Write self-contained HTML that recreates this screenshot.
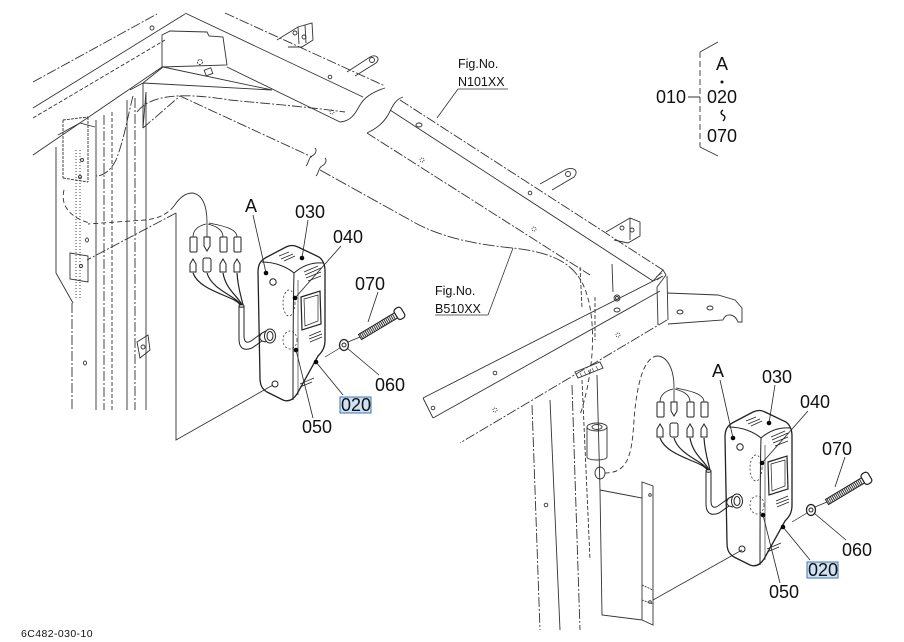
<!DOCTYPE html>
<html><head><meta charset="utf-8"><style>
html,body{margin:0;padding:0;background:#fff;}
svg{display:block;}
text{font-family:"Liberation Sans",Arial,sans-serif;fill:#111;}
</style></head><body>
<svg width="904" height="642" viewBox="0 0 904 642" xmlns="http://www.w3.org/2000/svg">
<defs>
<g id="lb" fill="none" stroke="#222" stroke-width="1">
  <!-- box outline -->
  <path stroke-width="1.3" d="M258,272 C258,264 261,260 267,257 L286,247 C290,245 294,245 298,247 L319,257 C323,260 325,264 325,271 L325,340 C325,347 323,351 318,356 L297,394 C293,400 288,402 283,400 L267,392 C262,389 260,385 260,378 Z"/>
  <path d="M262,262 C275,262 287,267 294,273 C302,266 312,262 323,263"/>
  <path d="M294,273 C293,310 293,360 293,400"/>
  <path d="M298,280 L298,395" stroke-width="0.6"/>
  <!-- window -->
  <path stroke-width="1.2" d="M301,297 L320,291 L321,324 L302,330 Z"/>
  <path d="M304,299 L318,295 L318,321 L305,326 Z" stroke-width="0.7"/>
  <!-- hatches -->
  <path stroke-width="0.7" d="M279,256 l10,-4 M281,259 l12,-5 M284,261 l11,-5 M304,272 l14,-6 M305,275 l16,-7 M306,278 l15,-6 M308,281 l13,-5 M309,336 l12,-5 M309,339 l13,-5 M310,342 l12,-5 M300,384 l14,-6 M300,387 l12,-5"/>
  <!-- holes -->
  <circle cx="273" cy="282" r="3.2"/>
  <circle cx="275" cy="384" r="3"/>
  <ellipse cx="289" cy="303" rx="6" ry="13" stroke-dasharray="2 2" stroke-width="0.7"/>
  <ellipse cx="290" cy="340" rx="7" ry="9" stroke-dasharray="2 2" stroke-width="0.7"/>
  <!-- grommet -->
  <ellipse cx="270" cy="336" rx="5.5" ry="7"/>
  <ellipse cx="270" cy="336" rx="3" ry="4.5"/>
  <path d="M266,331 L262,333 M266,342 L262,341 M262,333 C259,336 259,339 262,341"/>
  <!-- cable -->
  <path d="M262,333 L251,341 C246,344 244,341 244,336 L244,306"/>
  <path d="M262,341 L252,348 C242,352 239,346 239,339 L239,306"/>
  <ellipse cx="241.5" cy="306" rx="2.5" ry="1.2"/>
  <!-- wires -->
  <path stroke-width="1.2" d="M240,305 C236,296 200,292 193,273 M241,305 C236,296 212,290 207,273 M242,305 C238,296 226,290 223,273 M243,305 C241,296 238,288 237,273"/>
  <!-- lower connectors -->
  <path d="M190,272 L190,264 L193,259 L196,264 L196,272 Z"/>
  <rect x="203" y="258" width="8" height="14" rx="2"/>
  <path d="M220,272 L220,264 L223,259 L226,264 L226,272 Z"/>
  <path d="M234,272 L234,264 L237,259 L240,264 L240,272 Z"/>
  <!-- upper connectors -->
  <rect x="190" y="237" width="7" height="15" rx="1"/>
  <path d="M204,237 L210,237 L210,246 L207,251 L204,246 Z"/>
  <rect x="220" y="237" width="7" height="15" rx="1"/>
  <rect x="234" y="237" width="7" height="15" rx="1"/>
  <path stroke-width="0.8" d="M193,237 C193,230 198,226 206,224 M207,237 L207,222 M223,237 C223,229 215,226 208,224 M237,237 C237,229 224,226 209,223"/>
  <!-- dots -->
  <g fill="#000" stroke="none">
    <circle cx="266" cy="273" r="2.3"/>
    <circle cx="302" cy="258" r="2.3"/>
    <circle cx="295" cy="298" r="2.3"/>
    <circle cx="296" cy="350" r="2.3"/>
    <circle cx="316" cy="362" r="2.3"/>
  </g>
  <!-- bolt -->
  <g transform="translate(360,337) rotate(-31)">
    <line x1="1" y1="0" x2="41" y2="0" stroke="#333" stroke-width="6" stroke-dasharray="1 1"/>
    <rect x="0" y="-3" width="42" height="6"/>
    <rect x="42" y="-6" width="8" height="12" rx="3" stroke-width="1.2"/>
  </g>
  <!-- washer -->
  <ellipse cx="344" cy="345" rx="4.5" ry="5.5" stroke-width="1.3"/>
  <circle cx="344" cy="345" r="2"/>
  <path stroke-width="0.7" d="M325,357 L340,348 M348,342 L360,337"/>
  <!-- leaders -->
  <path stroke-width="0.8" d="M253,215 L266,273 M308,220 L302,258 M341,246 L295,298 M378,292 L368,322 M379,375 L347,348 M343,395 L316,362 M313,418 L296,350"/>
</g>
</defs>

<!-- FRAME -->
<g fill="none" stroke="#333" stroke-width="0.9">
  <!-- top-left roof -->
  <path stroke-dasharray="10 2 2 2" d="M33,82 L157,14"/>
  <path d="M33,108 L185,14"/>
  <path stroke-dasharray="4 2" d="M33,118 L165,40"/>
  <path d="M33,155 L162,67"/>
  <path d="M162,67 L162,35 L170,31 L207,32 L209,36 L223,37 L227,65 Z"/>
  <rect x="205" y="69" width="7" height="6" transform="rotate(-20 208 72)"/>
  <circle cx="152" cy="28" r="2"/>
  <circle cx="200" cy="62" r="2.5" stroke-dasharray="2 1"/>
  <path d="M185,13 L363,97"/>
  <path stroke-dasharray="10 2 2 2" d="M225,13 L385,86"/>
  <path d="M227,67 L340,122"/>
  <path d="M340,122 C352,121 356,112 360,105 C364,98 372,92 385,88"/>
  <circle cx="330" cy="77" r="1.8"/>
  <circle cx="332" cy="112" r="2" stroke-dasharray="1 1"/>
  <!-- top brackets -->
  <path d="M277,40 L298,27 L312,23 L313,40 L302,47 L288,47"/>
  <path d="M298,27 L299,44 M305,25 L306,43"/>
  <circle cx="295" cy="33" r="2"/><circle cx="304" cy="37" r="2"/>
  <path d="M347,72 L370,57 C376,54 381,58 376,63 L355,76"/>
  <circle cx="372" cy="60" r="2.5"/>
  <!-- wedge & pillar top -->
  <path d="M130,90 L143,83 L143,128 M143,83 L272,90 M163,67 L272,90 M143,83 L163,67"/>
  <path d="M146,92 L143,128"/>
  <path stroke-dasharray="10 2 2 2" d="M143,128 L180,96 L312,157"/>
  <path d="M306,166 c3,-3 2,-8 6,-10 c4,-2 5,-6 3,-8 M316,176 c3,-3 2,-8 6,-10 c4,-2 5,-6 3,-8"/>
  <path stroke-dasharray="10 2 2 2" d="M137,112 C150,95 180,92 230,100 C270,104 300,106 345,112"/>
  <path stroke-dasharray="12 2 2 2" d="M320,170 L410,220 C440,238 480,245 513,248 C550,252 568,262 578,276"/>
  <path stroke-dasharray="5 3" d="M578,276 C596,300 598,360 580,415"/>

  <!-- N101XX beam -->
  <path stroke-dasharray="10 2 2 2" d="M400,100 L663,270"/>
  <path d="M390,110 L653,281"/>
  <path stroke-dasharray="10 2 2 2" d="M367,133 L590,275"/>
  <path d="M403,97 C394,100 392,108 388,115 C384,122 378,128 367,133"/>
  <ellipse cx="419" cy="125" rx="3" ry="2"/>
  <circle cx="530" cy="193" r="1.8"/>
  <circle cx="422" cy="160" r="2" stroke-dasharray="1 1"/>
  <circle cx="534" cy="229" r="2" stroke-dasharray="1 1"/>
  <path d="M540,184 L565,170 C572,166 580,170 574,177 L552,190"/>
  <circle cx="568" cy="174" r="2.5"/>
  <path d="M606,232 L630,218 L640,222 L640,236 L628,243 L614,240"/>
  <path d="M630,218 L630,240"/>
  <circle cx="622" cy="228" r="2"/><circle cx="632" cy="230" r="2"/>
  <path d="M653,281 L663,270 L666,275 L657,287"/>
  <path d="M656,277 l6,-4 M657,280 l6,-4" stroke-width="0.6"/>
  <path d="M667,276 L668,320 M657,287 L658,325"/>
  <path d="M667,293 L718,295 L735,300 L742,308 L742,322 L738,322 C735,314 726,312 723,320 L668,324"/>
  <ellipse cx="680" cy="312" rx="3" ry="2"/><ellipse cx="710" cy="308" rx="3" ry="2"/>
  <path d="M580,267 L582,308 M595,297 L595,340" stroke-dasharray="4 2"/>
  <path d="M612,264 L613,292"/>

  <!-- crossbeam B510XX -->
  <path d="M663,276 L423,398"/>
  <path d="M660,291 L433,418"/>
  <path stroke-dasharray="10 2 2 2" d="M667,320 L460,443"/>
  <path d="M423,398 L433,418"/>
  <circle cx="433" cy="408" r="1.8"/>
  <circle cx="495" cy="373" r="1.8"/>
  <circle cx="617" cy="298" r="3"/>
  <circle cx="617" cy="298" r="1.5"/>
  <ellipse cx="617" cy="310" rx="3" ry="2"/>
  <circle cx="618" cy="335" r="2" stroke-dasharray="1 1"/>
  <circle cx="495" cy="410" r="2" stroke-dasharray="1 1"/>

  <!-- lower right pillar -->
  <path stroke-dasharray="10 2 2 2" d="M532,405 L540,630"/>
  <path d="M550,400 L560,630"/>
  <path stroke-dasharray="10 2 2 2" d="M572,385 L580,630"/>
  <path stroke-dasharray="4 2" d="M582,380 L590,560"/>
  <path d="M597,375 L600,490"/>
  <path d="M575,372 L600,362 L603,368 L578,378 Z"/>
  <path stroke-width="0.6" d="M580,373 l2,4 M584,371 l2,4 M588,370 l2,4 M592,368 l2,4 M596,366 l2,4"/>
  <path d="M587,427 L587,457 C587,461 607,461 607,457 L607,427"/>
  <ellipse cx="597" cy="427" rx="10" ry="4"/>
  <ellipse cx="597" cy="427" rx="5" ry="2.5"/>
  <ellipse cx="600" cy="473" rx="5" ry="6"/>
  <path d="M600,490 L642,498 L642,620 L602,615 Z"/>
  <path d="M642,498 L642,482 L653,486 L653,625 L642,620"/>
  <circle cx="650" cy="495" r="1.3"/>
  <path d="M642,585 L653,590 L653,604 L642,600" stroke-dasharray="2 1"/>
  <circle cx="650" cy="602" r="1.3"/>
  <circle cx="546" cy="505" r="1.8"/>
  <path stroke-dasharray="5 3" d="M658,356 C645,356 637,380 634,420 C632,455 628,473 605,473"/>
  <path d="M674,387 C674,370 668,357 658,356"/>
  <path stroke-width="0.8" d="M742,550 L653,600"/>

  <!-- left pillar -->
  <path d="M56,147 L56,273 L73,303"/>
  <path d="M58,135 L80,123 L95,127"/>
  <path stroke-dasharray="10 2 2 2" d="M72,303 L72,410"/>
  <path d="M96,120 L96,410"/>
  <path stroke-dasharray="10 2 2 2" d="M104,115 L104,410"/>
  <path stroke-dasharray="4 2" d="M112,112 L112,410"/>
  <path d="M127,100 L127,410"/>
  <path stroke-dasharray="10 2 2 2" d="M135,98 L135,410"/>
  <path d="M146,92 L146,410"/>
  <path stroke-dasharray="1 2" d="M76,150 L76,300 M80,150 L80,300"/>
  <path stroke-dasharray="3 1" d="M63,120 L63,178 M88,117 L88,182 M63,120 L88,117 M63,178 L88,182"/>
  <circle cx="82" cy="160" r="1.5"/><circle cx="80" cy="177" r="1.5"/>
  <path d="M70,253 L88,256 L88,282 L70,279 Z"/>
  <circle cx="81" cy="266" r="1.5"/>
  <path d="M137,342 L148,335 L150,350 L140,358 Z"/>
  <circle cx="143" cy="347" r="2"/>
  <ellipse cx="85" cy="363" rx="1.5" ry="2"/>
  <ellipse cx="87" cy="240" rx="1.5" ry="2"/>
  <path stroke-dasharray="10 2 2 2" d="M133,96 C128,115 124,140 116,160 C110,172 102,176 96,176"/>
  <path stroke-dasharray="5 3" d="M64,190 C60,205 70,218 90,223"/>
  <path d="M207,222 C207,205 202,194 192,193 C184,193 178,200 174,206"/>
  <path stroke-dasharray="5 3" d="M174,206 C166,216 155,219 145,220 L88,224"/>
  <path d="M176,213 L176,440 L273,385"/>
  <path stroke-dasharray="10 2 2 2" d="M176,213 L87,260"/>

  <!-- Fig.No leaders -->
  <path stroke-width="0.8" d="M458,89 L508,89 M458,89 L437,118"/>
  <path stroke-width="0.8" d="M435,315 L488,315 L513,248"/>

  <!-- legend bracket -->
  <path stroke-dasharray="6 3" d="M700,52 L700,147"/>
  <path d="M700,52 L718,42 M700,147 L718,156 M688,97 L700,97"/>
  <path d="M723,110 c-3,2 -2,4 0,5 c2,1 3,3 0,6" stroke="#111" stroke-width="1.4"/>
</g>

<use href="#lb"/>
<use href="#lb" transform="translate(467,165)"/>

<!-- highlight boxes -->
<rect x="340" y="397" width="31" height="16" fill="#cfe2f5" stroke="#3b74b0" stroke-width="1"/>
<rect x="807" y="562" width="31" height="16" fill="#cfe2f5" stroke="#3b74b0" stroke-width="1"/>

<!-- labels left -->
<g font-size="18" text-anchor="middle">
  <text x="251" y="212">A</text>
  <text x="310" y="218">030</text>
  <text x="348" y="243">040</text>
  <text x="370" y="290">070</text>
  <text x="390" y="391">060</text>
  <text x="356" y="411">020</text>
  <text x="317" y="433">050</text>

  <text x="718" y="377">A</text>
  <text x="777" y="383">030</text>
  <text x="815" y="408">040</text>
  <text x="837" y="455">070</text>
  <text x="857" y="556">060</text>
  <text x="823" y="576">020</text>
  <text x="784" y="598">050</text>

  <text x="722" y="70">A</text>
  <text x="671" y="103">010</text>
  <text x="722" y="103">020</text>
  <text x="722" y="142">070</text>
</g>
<circle cx="722" cy="82" r="1.5" fill="#111"/>

<g font-size="12.5">
  <text x="458" y="68">Fig.No.</text>
  <text x="458" y="86">N101XX</text>
  <text x="435" y="295">Fig.No.</text>
  <text x="435" y="313">B510XX</text>
</g>
<text x="21" y="637" font-size="10.5" letter-spacing="0.4">6C482-030-10</text>
</svg>
</body></html>
